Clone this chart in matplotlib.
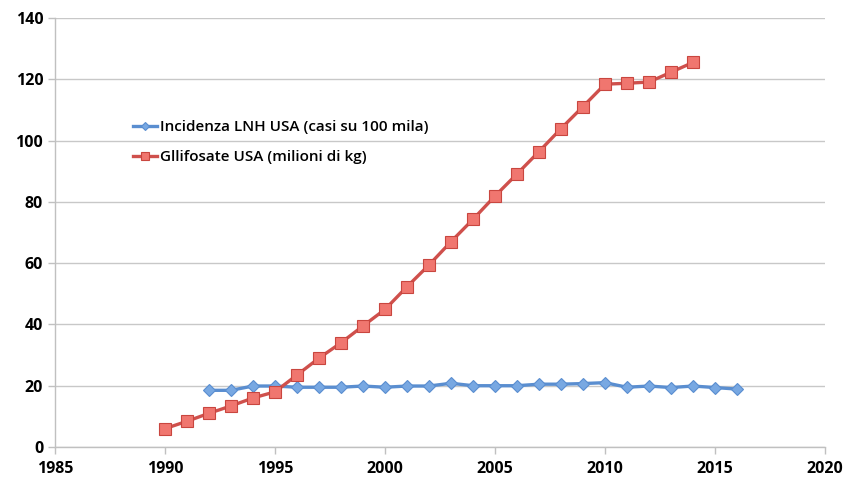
import matplotlib.pyplot as plt
import numpy as np

# Incidenza linfoma non-Hodgkin negli USA (casi su 100 mila)
anni_lnh = np.arange(1992, 2017)
incidenza_lnh = [18.5, 18.5, 19.9, 19.9, 19.5, 19.5, 19.5, 19.9, 19.5, 19.9,
                 19.9, 20.8, 20.0, 20.0, 20.0, 20.5, 20.5, 20.7, 21.0, 19.5,
                 19.9, 19.4, 19.9, 19.4, 18.9]

# Uso di glifosate negli USA (milioni di kg)
anni_gly = np.arange(1990, 2015)
glifosate = [6.0, 8.4, 11.0, 13.4, 16.0, 18.0, 23.5, 29.0, 34.0, 39.5,
             44.9, 52.3, 59.4, 67.0, 74.3, 81.9, 89.1, 96.4, 103.9, 111.1,
             118.4, 118.7, 119.1, 122.3, 125.5]

label_lnh = 'Incidenza LNH USA (casi su 100 mila)'
label_gly = 'Gllifosate USA (milioni di kg)'

plt.rcParams['font.family'] = ['Open Sans', 'DejaVu Sans']

fig = plt.figure(figsize=(8.44, 4.79), dpi=100)
ax = fig.add_axes([55 / 844, 32 / 479, 770 / 844, 429 / 479])

ax.plot(anni_lnh, incidenza_lnh, color='#5A8ED0', lw=2.4, marker='D',
        ms=6, mfc='#78A8E2', mec='#5A8ED0', mew=0.8, label=label_lnh, zorder=3)
ax.plot(anni_gly, glifosate, color='#CF504C', lw=2.4, marker='s',
        ms=8, mfc='#F0766F', mec='#C9463F', mew=0.8, label=label_gly, zorder=3)

ax.set_xlim(1985, 2020)
ax.set_ylim(0, 140)
ax.set_xticks(np.arange(1985, 2021, 5))
ax.set_yticks(np.arange(0, 141, 20))

ax.grid(axis='y', color='#C8C8C8', lw=1)
ax.set_axisbelow(True)
for side in ('top', 'right'):
    ax.spines[side].set_visible(False)
for side in ('left', 'bottom'):
    ax.spines[side].set_color('#C0C0C0')
    ax.spines[side].set_linewidth(1)
ax.tick_params(axis='both', colors='#C0C0C0', length=5, width=1,
               labelcolor='black', labelsize=11.5)
ax.tick_params(axis='x', pad=5)
for lbl in ax.get_xticklabels() + ax.get_yticklabels():
    lbl.set_fontweight('bold')

ax.legend(loc='center left', bbox_to_anchor=(0.101, 0.711),
          frameon=False, prop={'size': 11, 'weight': 600},
          handlelength=1.6, handletextpad=0.15,
          labelspacing=1.05, markerscale=0.7, borderaxespad=0, borderpad=0)

fig.savefig('out.png', dpi=100)
